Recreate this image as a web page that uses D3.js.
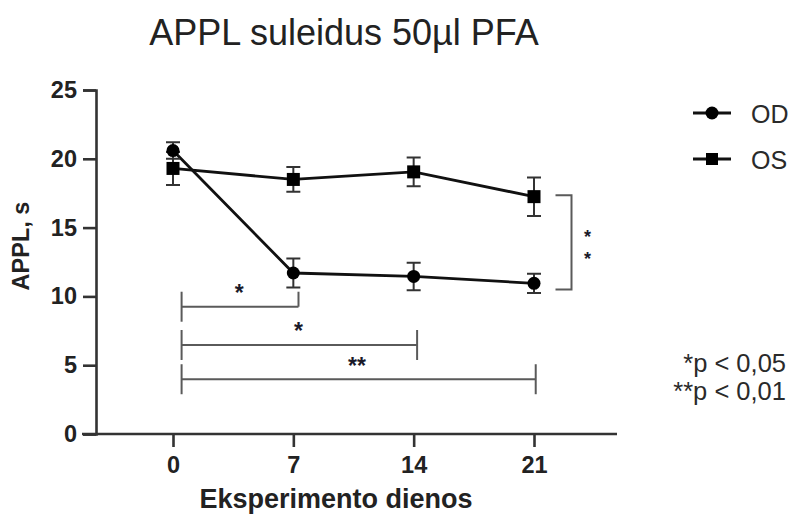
<!DOCTYPE html>
<html>
<head>
<meta charset="utf-8">
<script src="https://cdn.jsdelivr.net/npm/d3@7"></script>
<style>
  html, body { margin: 0; padding: 0; background: #fff; }
  svg text { font-family: "Liberation Sans", Arial, Helvetica, sans-serif; }
</style>
</head>
<body>
<svg id="chart" width="796" height="515"></svg>
<script>
// Days of the experiment (x categories)
const days = [0, 7, 14, 21];
// Mean APPL (s) and error (SEM) for each eye
const odMean = [20.6, 11.7, 11.45, 10.95];
const odErr  = [0.6, 1.05, 1.0, 0.7];
const osMean = [19.3, 18.5, 19.05, 17.25];
const osErr  = [1.2, 0.9, 1.05, 1.4];
// Axis ticks
const yTicks = [0, 5, 10, 15, 20, 25];
// Significance brackets between day 0 and later days (x range in days, level in s)
const bracketFrom  = [0.5, 0.5, 0.5];
const bracketTo    = [7.3, 14.2, 21.1];
const bracketLevel = [9.25, 6.47, 3.98];
const bracketMark  = ["*", "*", "**"];
// Star positions for each bracket (day, s)
const markDay   = [3.85, 7.3, 10.7];
const markLevel = [10.55, 7.78, 5.26];
// Bracket between the two series at day 21
const sideBracket = [17.35, 10.5];
const sideMarks = ["*", "*"];

const svg = d3.select("#chart");
const x = d3.scaleLinear().domain([0, 21]).range([173, 534]);
const y = d3.scaleLinear().domain([0, 25]).range([434, 90]);
const ink = "#222";
const grey = "#5a5a5a";

// Title
svg.append("text")
  .attr("x", 344).attr("y", 45)
  .attr("text-anchor", "middle")
  .attr("font-size", 36)
  .attr("fill", ink)
  .text("APPL suleidus 50\u00b5l PFA");

// Y axis
const yAxis = svg.append("g")
  .attr("transform", "translate(96,0)")
  .call(d3.axisLeft(y).tickValues(yTicks).tickSize(13).tickPadding(6).tickFormat(d3.format("d")));
yAxis.select(".domain").attr("stroke", "#333").attr("stroke-width", 2.6);
yAxis.selectAll(".tick line").attr("stroke", "#333").attr("stroke-width", 2.6);
yAxis.selectAll(".tick text")
  .attr("font-size", 23.5).attr("font-weight", "bold").attr("fill", ink)
  .style("font-family", "'Liberation Sans', Arial, sans-serif");

// X axis (line extends from the y axis to the right end)
const xAxis = svg.append("g")
  .attr("transform", "translate(0,434)")
  .call(d3.axisBottom(x).tickValues(days).tickSize(13).tickPadding(9).tickFormat(d3.format("d")));
xAxis.select(".domain").remove();
xAxis.append("line")
  .attr("x1", 82).attr("x2", 617).attr("y1", 0).attr("y2", 0)
  .attr("stroke", "#333").attr("stroke-width", 2.6);
xAxis.selectAll(".tick line").attr("stroke", "#333").attr("stroke-width", 2.6);
xAxis.selectAll(".tick text")
  .attr("font-size", 23.5).attr("font-weight", "bold").attr("fill", ink)
  .style("font-family", "'Liberation Sans', Arial, sans-serif");

// Axis titles
svg.append("text")
  .attr("x", 336).attr("y", 508)
  .attr("text-anchor", "middle")
  .attr("font-size", 27).attr("font-weight", "bold").attr("fill", ink)
  .text("Eksperimento dienos");
svg.append("text")
  .attr("transform", "translate(29,246) rotate(-90)")
  .attr("text-anchor", "middle")
  .attr("font-size", 23.5).attr("font-weight", "bold").attr("fill", ink)
  .text("APPL, s");

// Significance brackets
const br = svg.append("g").attr("stroke", grey).attr("stroke-width", 2).attr("fill", "none");
bracketFrom.forEach((d, i) => {
  const yy = y(bracketLevel[i]);
  br.append("line").attr("x1", x(d)).attr("x2", x(bracketTo[i])).attr("y1", yy).attr("y2", yy);
  br.append("line").attr("x1", x(d)).attr("x2", x(d)).attr("y1", yy - 15).attr("y2", yy + 15);
  br.append("line").attr("x1", x(bracketTo[i])).attr("x2", x(bracketTo[i]))
    .attr("y1", yy - 15).attr("y2", i === 0 ? yy : yy + 15);
});
const marks = svg.append("g").attr("fill", "#1a1a2a").attr("font-size", 23)
  .attr("font-weight", "bold").attr("text-anchor", "middle");
bracketMark.forEach((m, i) => {
  marks.append("text").attr("x", x(markDay[i])).attr("y", y(markLevel[i]) + 12.5).text(m);
});

// Side bracket at day 21
const sx = x(21) + 37.5;
br.append("path")
  .attr("d", `M${sx - 16},${y(sideBracket[0])}H${sx}V${y(sideBracket[1])}H${sx - 16}`);
sideMarks.forEach((m, i) => {
  marks.append("text").attr("x", sx + 16).attr("y", 232.7 + i * 22.3 + 10)
    .attr("font-size", 18).text(m);
});

// Series
function drawSeries(means, errs, shape) {
  const g = svg.append("g");
  const pts = days.map((d, i) => [x(d), y(means[i])]);
  g.append("path")
    .attr("d", d3.line()(pts))
    .attr("fill", "none").attr("stroke", "#111").attr("stroke-width", 2.8);
  days.forEach((d, i) => {
    const cx = x(d), top = y(means[i] + errs[i]), bot = y(means[i] - errs[i]);
    g.append("path")
      .attr("d", `M${cx},${top}V${bot}M${cx - 7},${top}H${cx + 7}M${cx - 7},${bot}H${cx + 7}`)
      .attr("stroke", "#333").attr("stroke-width", 2).attr("fill", "none");
  });
  days.forEach((d, i) => {
    const cx = x(d), cy = y(means[i]);
    if (shape === "circle") {
      g.append("circle").attr("cx", cx).attr("cy", cy).attr("r", 6.5).attr("fill", "#000");
    } else {
      g.append("rect").attr("x", cx - 6.5).attr("y", cy - 6.5).attr("width", 13).attr("height", 13).attr("fill", "#000");
    }
  });
}
drawSeries(osMean, osErr, "square");
drawSeries(odMean, odErr, "circle");

// Legend
const legend = svg.append("g");
[["OD", "circle", 113], ["OS", "square", 159]].forEach(([label, shape, ly]) => {
  legend.append("line").attr("x1", 693).attr("x2", 731).attr("y1", ly).attr("y2", ly)
    .attr("stroke", "#111").attr("stroke-width", 3);
  if (shape === "circle") {
    legend.append("circle").attr("cx", 712).attr("cy", ly).attr("r", 6.5).attr("fill", "#000");
  } else {
    legend.append("rect").attr("x", 706).attr("y", ly - 6).attr("width", 12).attr("height", 12).attr("fill", "#000");
  }
  legend.append("text").attr("x", 751).attr("y", ly + 9.5)
    .attr("font-size", 25).attr("fill", "#2a2a2a").text(label);
});

// Significance key
svg.append("text").attr("x", 786).attr("y", 372).attr("text-anchor", "end")
  .attr("font-size", 25.5).attr("fill", "#2a2a2a").text("*p < 0,05");
svg.append("text").attr("x", 786).attr("y", 400).attr("text-anchor", "end")
  .attr("font-size", 25.5).attr("fill", "#2a2a2a").text("**p < 0,01");
</script>
</body>
</html>
